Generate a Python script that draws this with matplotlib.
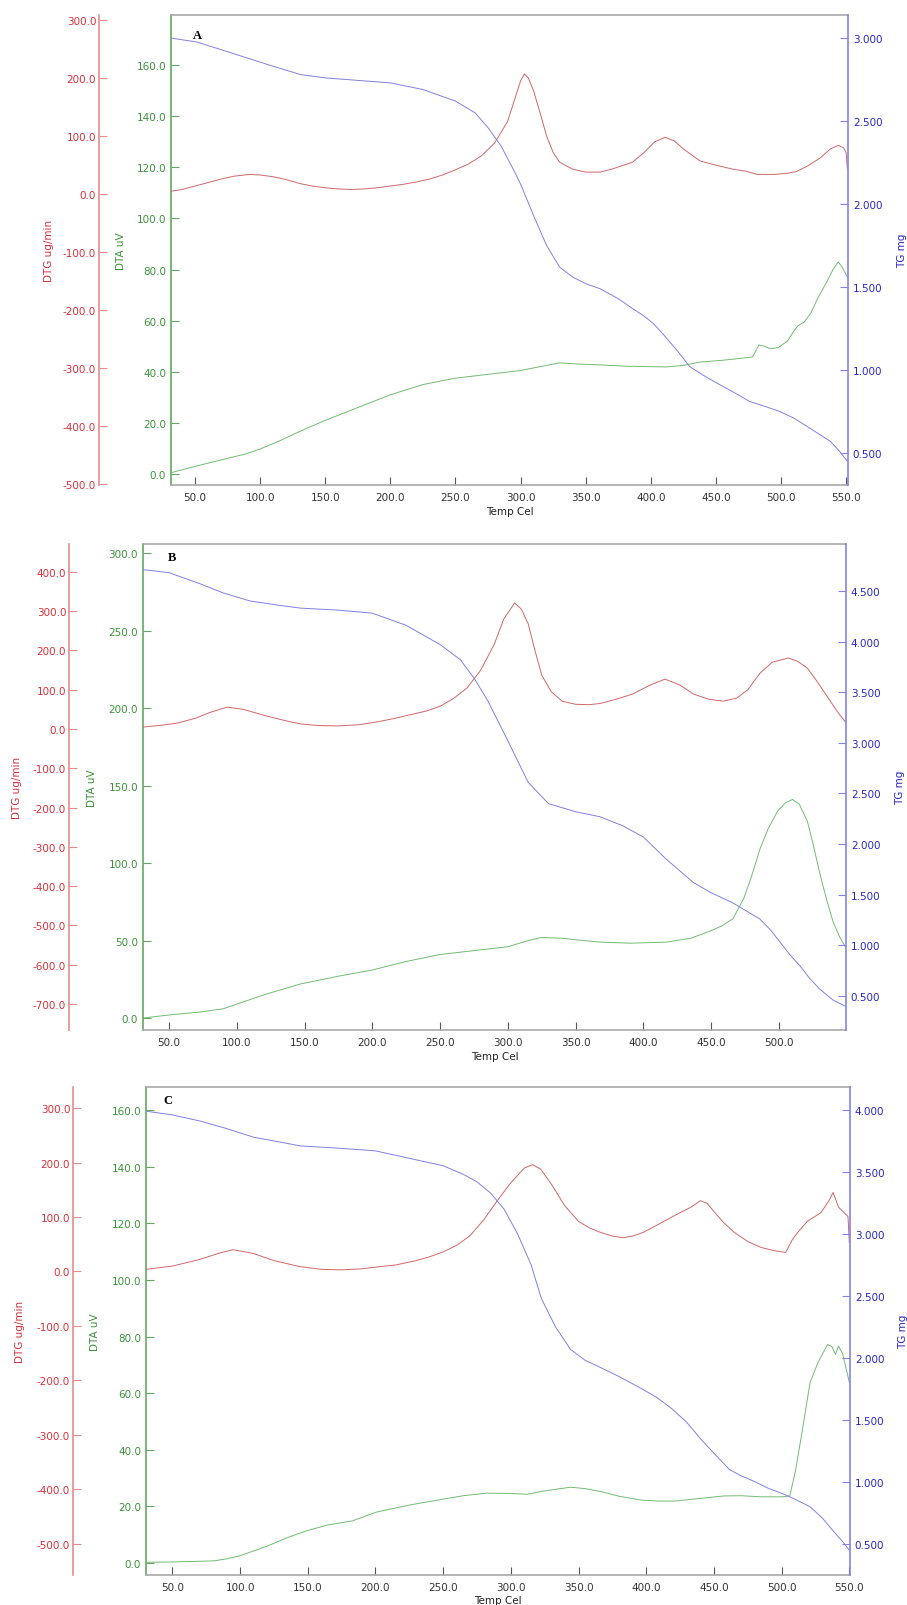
import matplotlib
matplotlib.use("Agg")
import matplotlib.pyplot as plt
from matplotlib.ticker import FormatStrFormatter

# ---------------- panel A ----------------
a_dtg_temp = [31.5, 40, 50, 60, 70, 80, 92, 100, 110, 120, 131, 140, 150, 160, 170, 180, 190, 200,
              210, 220, 230, 240, 250, 260, 270, 280, 290, 295, 300, 303, 306, 310, 315, 320, 325,
              330, 340, 350, 361, 370, 386, 395, 403, 411, 418, 425, 438, 450, 463, 472, 482, 495,
              505, 512, 520, 530, 538, 544, 548, 550, 551]
a_dtg = [5, 8, 14, 20, 26, 31, 34, 33, 30, 25, 18, 14, 11, 9, 8, 9, 11, 14,
         17, 21, 26, 33, 42, 52, 66, 88, 125, 160, 195, 207, 200, 178, 140, 100, 72,
         55, 43, 38, 38, 43, 55, 72, 90, 98, 92, 78, 57, 50, 43, 40, 34, 34,
         36, 39, 48, 62, 78, 84, 80, 72, 45]

a_dta_temp = [31.5, 50, 70, 90, 100, 115, 131, 150, 175, 190, 200, 225, 250, 275, 300, 315, 330,
              345, 361, 380, 400, 412, 425, 438, 455, 470, 478, 480, 483, 487, 492, 498, 505,
              510, 513, 518, 523, 528, 535, 540, 544, 547, 551]
a_dta = [0.5, 3, 5.5, 8, 9.8, 13, 16.8, 21, 26, 29, 31, 35, 37.5, 39, 40.5, 42, 43.5,
         43, 42.7, 42.2, 42, 41.9, 42.5, 43.8, 44.5, 45.3, 45.8, 47.5, 50.5, 50, 49, 49.5, 52,
         56, 58, 59.5, 63, 68.5, 75, 80, 83, 81, 77]

a_tg_temp = [31.5, 51.5, 70, 90, 110, 131, 150, 175, 200, 225, 250, 265, 275, 285, 295, 300,
             310, 320, 330, 340, 350, 361, 375, 386, 394, 402, 409, 420, 430, 440, 451, 465,
             476, 488, 499, 510, 520, 530, 538, 545, 551]
a_tg = [3.0, 2.976, 2.93, 2.88, 2.83, 2.78, 2.76, 2.745, 2.73, 2.69, 2.62, 2.55, 2.46, 2.35, 2.2,
        2.12, 1.93, 1.75, 1.62, 1.56, 1.52, 1.49, 1.43, 1.37, 1.33, 1.28, 1.22, 1.12, 1.02, 0.97,
        0.92, 0.86, 0.81, 0.78, 0.75, 0.71, 0.66, 0.61, 0.57, 0.51, 0.45]

# ---------------- panel B ----------------
b_dtg_temp = [30.8, 45, 56, 70, 80, 93, 105, 120, 135, 147, 160, 175, 190, 200, 215, 230, 240,
              250, 260, 270, 280, 290, 297, 305, 310, 315, 320, 325, 332, 340, 350, 360, 368,
              380, 392, 405, 416, 427, 437, 448, 459, 469, 477, 486, 495, 507, 514, 521, 528,
              536, 543, 549]
b_dtg = [5, 10, 15, 28, 42, 56, 50, 35, 22, 13, 9, 8, 11, 16, 26, 38, 46,
         58, 78, 105, 150, 216, 280, 321, 305, 268, 200, 137, 95, 71, 63, 62, 65,
         76, 89, 112, 127, 112, 89, 76, 71, 79, 100, 142, 170, 181, 172, 155, 122,
         81, 45, 18]

b_dta_temp = [30.8, 50, 73, 90, 100, 120, 147, 175, 200, 225, 250, 275, 300, 315, 325, 340, 350,
              368, 390, 417, 435, 449, 458, 466, 474, 480, 486, 492, 499, 505, 510, 515, 521,
              525, 530, 535, 540, 545, 549]
b_dta = [0, 2, 3.9, 6, 9, 15, 22, 27, 31, 36.5, 41, 43.5, 46, 50, 52, 51.5, 50.5,
         49, 48.3, 49, 51.5, 56, 59.5, 64, 77, 92, 109, 122, 133.5, 139, 141, 138, 127,
         113, 94, 77, 62, 52, 46]

b_tg_temp = [30.8, 50, 73, 90, 110, 130, 147, 175, 200, 225, 250, 265, 275, 285, 300, 315, 330,
             350, 368, 385, 400, 417, 437, 450, 466, 476, 486, 494, 501, 508, 516, 523, 530,
             540, 549]
b_tg = [4.71, 4.68, 4.57, 4.48, 4.40, 4.36, 4.33, 4.31, 4.28, 4.16, 3.97, 3.82, 3.64, 3.42, 3.02,
        2.61, 2.40, 2.32, 2.27, 2.18, 2.07, 1.85, 1.62, 1.52, 1.42, 1.34, 1.26, 1.15, 1.03, 0.91,
        0.79, 0.67, 0.57, 0.46, 0.40]

# ---------------- panel C ----------------
c_dtg_temp = [30.5, 50, 70, 85, 95, 110, 125, 144, 160, 175, 190, 200, 215, 230, 240, 250, 260,
              270, 280, 290, 300, 310, 316, 322, 330, 340, 350, 358, 366, 375, 383, 390, 398,
              407, 416, 425, 433, 440, 445, 450, 457, 465, 475, 485, 495, 503, 508, 513, 519,
              529, 535, 538, 541, 542, 549, 550]
c_dtg = [4, 10, 22, 34, 40, 33, 20, 9, 4, 3, 5, 8, 12, 20, 27, 36, 48,
         66, 95, 130, 163, 190, 196, 188, 160, 120, 92, 80, 72, 65, 62, 65, 72,
         84, 96, 108, 118, 130, 125, 110, 90, 72, 55, 44, 38, 35, 59, 75, 92,
         108, 130, 145, 125, 118, 101, 53]

c_dta_temp = [30.5, 50, 81, 90, 100, 120, 135, 149, 165, 183, 192, 200.6, 225, 250, 265, 282,
              300, 312, 325, 344, 355, 367, 380, 397, 410, 421, 435, 457, 470, 485, 500, 506,
              510, 515, 521, 527, 534, 537, 539.8, 542, 545, 548, 550]
c_dta = [0.3, 0.4, 0.8, 1.5, 2.6, 6, 9, 11.4, 13.5, 14.9, 16.5, 18, 20.5, 22.6, 23.8, 24.7,
         24.6, 24.3, 25.5, 26.8, 26.3, 25.2, 23.6, 22.2, 21.9, 21.9, 22.6, 23.7, 23.8, 23.4, 23.4, 23.7,
         32, 46, 63.8, 71, 77.2, 76.5, 73.7, 76.6, 74, 68, 63.8]

c_tg_temp = [30.5, 50, 70.6, 90, 110, 130, 144.5, 175, 200, 225, 250, 265, 275, 285, 295, 305,
             315, 322.5, 333, 344, 355, 363, 380, 397, 408, 419, 430, 440, 451, 461.5, 470,
             478.7, 490, 502, 512, 521, 530, 538.5, 545, 550]
c_tg = [3.99, 3.96, 3.91, 3.85, 3.78, 3.74, 3.71, 3.69, 3.67, 3.61, 3.55, 3.48, 3.42, 3.33, 3.2,
        3.0, 2.75, 2.48, 2.25, 2.07, 1.98, 1.94, 1.85, 1.75, 1.68, 1.59, 1.48, 1.35, 1.22, 1.10,
        1.05, 1.01, 0.95, 0.90, 0.85, 0.80, 0.71, 0.60, 0.52, 0.45]

# ---------------- style ----------------
RED_TXT, RED_AX, RED_LN = "#d7303a", "#e58c8c", "#d06868"
GRN_TXT, GRN_AX, GRN_LN = "#3a933a", "#62a862", "#72bb72"
BLU_TXT, BLU_AX, BLU_LN = "#2626c4", "#8484e6", "#8080e2"
FRAME = "#a9a9a9"
FS = 7.5
TICK_LEN = 5.8

W, H = 907, 1606
fig = plt.figure(figsize=(W / 100, H / 100), dpi=100)


def fx(x):
    return x / W


def fy(y):
    return 1 - y / H


def draw_panel(box, xlim, xticks, dta, dtg, tg, letter, dtg_x, lab_x, xlab_y, letter_xy):
    l, t, r, b = box
    ax = fig.add_axes([fx(l), fy(b), (r - l) / W, (b - t) / H])
    ax.set_xlim(*xlim)
    ax.set_xticks(xticks)
    ax.xaxis.set_major_formatter(FormatStrFormatter("%.1f"))
    ax.tick_params(axis="x", direction="in", length=TICK_LEN, width=0.8, color="#555555",
                   labelcolor="#333333", labelsize=FS, pad=5)

    # DTA on host (left, green)
    t_dta, v_dta, lim, ticks = dta
    ax.plot(t_dta, v_dta, color=GRN_LN, lw=0.7)
    ax.set_ylim(*lim)
    ax.set_yticks(ticks)
    ax.yaxis.set_major_formatter(FormatStrFormatter("%.1f"))
    ax.tick_params(axis="y", direction="in", length=TICK_LEN, width=0.8, color=GRN_AX,
                   labelcolor=GRN_TXT, labelsize=FS, pad=3.5)
    ax.spines["left"].set_color(GRN_AX)
    ax.spines["left"].set_linewidth(1.2)
    ax.spines["right"].set_visible(False)
    for s in ("top", "bottom"):
        ax.spines[s].set_color(FRAME)
        ax.spines[s].set_linewidth(1.2)

    # DTG on offset left axis (red)
    t_dtg, v_dtg, lim, ticks = dtg
    ax_dtg = ax.twinx()
    ax_dtg.plot(t_dtg, v_dtg, color=RED_LN, lw=0.7)
    ax_dtg.set_ylim(*lim)
    ax_dtg.set_yticks(ticks)
    ax_dtg.yaxis.set_major_formatter(FormatStrFormatter("%.1f"))
    ax_dtg.spines["left"].set_position(("axes", (dtg_x - l) / (r - l)))
    ax_dtg.spines["left"].set_visible(True)
    ax_dtg.spines["left"].set_color(RED_AX)
    ax_dtg.spines["left"].set_linewidth(1.2)
    for s in ("right", "top", "bottom"):
        ax_dtg.spines[s].set_visible(False)
    ax_dtg.yaxis.set_ticks_position("left")
    ax_dtg.tick_params(axis="y", direction="in", length=TICK_LEN, width=0.8, color=RED_AX,
                       labelcolor=RED_TXT, labelsize=FS, pad=2)

    # TG on right axis (blue)
    t_tg, v_tg, lim, ticks = tg
    ax_tg = ax.twinx()
    ax_tg.plot(t_tg, v_tg, color=BLU_LN, lw=0.7)
    ax_tg.set_ylim(*lim)
    ax_tg.set_yticks(ticks)
    ax_tg.yaxis.set_major_formatter(FormatStrFormatter("%.3f"))
    ax_tg.spines["right"].set_color(BLU_AX)
    ax_tg.spines["right"].set_linewidth(1.2)
    for s in ("left", "top", "bottom"):
        ax_tg.spines[s].set_visible(False)
    ax_tg.tick_params(axis="y", direction="in", length=TICK_LEN, width=0.8, color=BLU_AX,
                      labelcolor=BLU_TXT, labelsize=FS, pad=3.5)

    # axis titles
    ymid = fy((t + b) / 2)
    fig.text(fx(lab_x[0]), ymid, "DTG ug/min", color=RED_TXT, fontsize=FS,
             rotation=90, ha="center", va="center")
    fig.text(fx(lab_x[1]), ymid, "DTA uV", color=GRN_TXT, fontsize=FS,
             rotation=90, ha="center", va="center")
    fig.text(fx(lab_x[2]), ymid, "TG mg", color=BLU_TXT, fontsize=FS,
             rotation=90, ha="center", va="center")
    fig.text(fx((l + r) / 2), fy(xlab_y), "Temp Cel", color="#222222", fontsize=FS,
             ha="center", va="center")
    fig.text(fx(letter_xy[0]), fy(letter_xy[1]), letter, fontsize=9, fontweight="bold",
             family=["Liberation Serif", "DejaVu Serif"], ha="center", va="center")


x_full = [50, 100, 150, 200, 250, 300, 350, 400, 450, 500, 550]
x_b = [50, 100, 150, 200, 250, 300, 350, 400, 450, 500]

draw_panel((171, 16, 848, 486), (31.5, 551.5), x_full,
           (a_dta_temp, a_dta, (-4.3, 179.6), [0, 20, 40, 60, 80, 100, 120, 140, 160]),
           (a_dtg_temp, a_dtg, (-501, 308.6), [-500, -400, -300, -200, -100, 0, 100, 200, 300]),
           (a_tg_temp, a_tg, (0.307, 3.139), [0.5, 1.0, 1.5, 2.0, 2.5, 3.0]),
           "A", 99, (49, 121, 902), 512, (197, 36))

draw_panel((143, 545, 846, 1031), (30.8, 549.5), x_b,
           (b_dta_temp, b_dta, (-7.7, 305.8), [0, 50, 100, 150, 200, 250, 300]),
           (b_dtg_temp, b_dtg, (-766, 471), [-700, -600, -500, -400, -300, -200, -100, 0, 100, 200, 300, 400]),
           (b_tg_temp, b_tg, (0.165, 4.963), [0.5, 1.0, 1.5, 2.0, 2.5, 3.0, 3.5, 4.0, 4.5]),
           "B", 69, (17, 92, 900), 1057, (172, 558))

draw_panel((146, 1088, 850, 1576), (30.5, 550.5), x_full,
           (c_dta_temp, c_dta, (-4.2, 168.1), [0, 20, 40, 60, 80, 100, 120, 140, 160]),
           (c_dtg_temp, c_dtg, (-557, 338.6), [-500, -400, -300, -200, -100, 0, 100, 200, 300]),
           (c_tg_temp, c_tg, (0.25, 4.185), [0.5, 1.0, 1.5, 2.0, 2.5, 3.0, 3.5, 4.0]),
           "C", 73, (20, 95, 903), 1601, (168, 1101))

fig.savefig("out.png", dpi=100)
